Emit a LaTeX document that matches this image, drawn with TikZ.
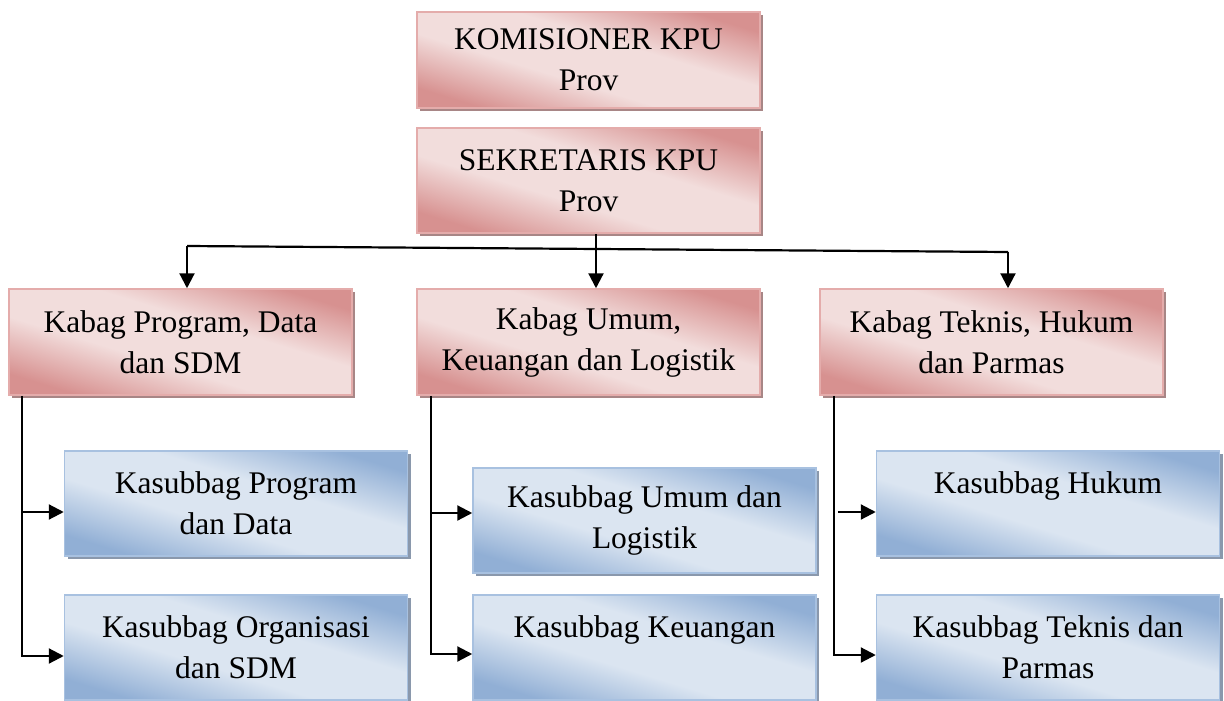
\documentclass[tikz,border=0pt]{standalone}
\usepackage{fontspec}
\setmainfont{Liberation Serif}
\usetikzlibrary{arrows.meta,shadows}

\definecolor{pinkdark}{RGB}{215,145,144}
\definecolor{pinklight}{RGB}{242,221,220}
\definecolor{pinkline}{RGB}{228,172,171}
\definecolor{pinkshade}{RGB}{168,134,134}
\definecolor{bluedark}{RGB}{145,175,213}
\definecolor{bluelight}{RGB}{219,229,241}
\definecolor{blueline}{RGB}{168,193,224}
\definecolor{blueshade}{RGB}{138,152,172}

\pgfdeclareverticalshading{kabagshade}{100bp}{color(0bp)=(pinkdark); color(25bp)=(pinkdark);
  color(42bp)=(pinklight); color(58bp)=(pinklight); color(75bp)=(pinkdark); color(100bp)=(pinkdark)}
\pgfdeclareverticalshading{subshade}{100bp}{color(0bp)=(bluedark); color(25bp)=(bluedark);
  color(42bp)=(bluelight); color(58bp)=(bluelight); color(75bp)=(bluedark); color(100bp)=(bluedark)}

\tikzset{
  unitbox/.style={rectangle, minimum width=343pt, minimum height=105pt,
    inner sep=0pt, align=center, line width=1.5pt,
    font=\fontsize{31.5}{41}\selectfont},
  kabagbox/.style={unitbox, draw=pinkline, shading=kabagshade, shading angle=-17,
    drop shadow={shadow xshift=3pt, shadow yshift=-3pt, fill=pinkshade, opacity=1}},
  subbox/.style={unitbox, draw=blueline, shading=subshade, shading angle=-17,
    drop shadow={shadow xshift=3pt, shadow yshift=-3pt, fill=blueshade, opacity=1}},
  conn/.style={line width=2.2pt},
  arr/.style={conn, -{Triangle[length=15pt,width=15pt]}}
}

\begin{document}
\begin{tikzpicture}[x=1pt, y=-1pt]
  \useasboundingbox (0,0) rectangle (1224,701);

  % pimpinan
  \node[kabagbox, minimum height=96pt] (kom) at (588.5,60) {KOMISIONER KPU\\Prov};
  \node[kabagbox] (sek) at (588.5,180.5) {SEKRETARIS KPU\\Prov};

  % kabag
  \node[kabagbox, minimum height=106pt] (kabprog) at (180.5,342) {Kabag Program, Data\\dan SDM};
  \node[kabagbox, minimum height=106pt] (kabumum) at (588.5,342) {Kabag Umum,\\Keuangan dan Logistik};
  \node[kabagbox, minimum height=106pt] (kabtek) at (991.5,342) {Kabag Teknis, Hukum\\dan Parmas};

  % kasubbag
  \node[subbox] (subprog) at (236,503.5) {Kasubbag Program\\dan Data};
  \node[subbox] (suborg) at (236,647.5) {Kasubbag Organisasi\\dan SDM};
  \node[subbox] (subumum) at (644.5,520.5) {Kasubbag Umum dan\\Logistik};
  \node[subbox] (subkeu) at (644.5,647.5) {Kasubbag Keuangan\\\mbox{}};
  \node[subbox] (subhuk) at (1048,503.5) {Kasubbag Hukum\\\mbox{}};
  \node[subbox] (subtek) at (1048,647.5) {Kasubbag Teknis dan\\Parmas};

  % garis ke kabag
  \coordinate (busl) at (187,246);
  \coordinate (busr) at (1008,252);
  \draw[conn] (busl) -- (busr);
  \draw[arr] (busl) -- (busl |- kabprog.north);
  \draw[arr] ([xshift=7.5pt]sek.south) -- ([xshift=7.5pt]kabumum.north);
  \draw[arr] (busr) -- (busr |- kabtek.north);

  % garis ke kasubbag
  \coordinate (progtop) at ([xshift=14pt]kabprog.south west);
  \coordinate (aprog) at ([yshift=-8.5pt]subprog.west);
  \coordinate (aorg) at ([yshift=-8.5pt]suborg.west);
  \draw[arr] (progtop) |- (aorg);
  \draw[arr] (progtop |- aprog) -- (aprog);

  \coordinate (umumtop) at ([xshift=15pt]kabumum.south west);
  \coordinate (aumum) at ([yshift=7.5pt]subumum.west);
  \coordinate (akeu) at ([yshift=-6.5pt]subkeu.west);
  \draw[arr] (umumtop) |- (akeu);
  \draw[arr] (umumtop |- aumum) -- (aumum);

  \coordinate (tektop) at ([xshift=15pt]kabtek.south west);
  \coordinate (ahuk) at ([yshift=-8.5pt]subhuk.west);
  \coordinate (atek) at ([yshift=-7.5pt]subtek.west);
  \coordinate (hukstart) at ([xshift=-38pt]ahuk);
  \draw[arr] (tektop) |- (atek);
  \draw[arr] (hukstart) -- (ahuk);
\end{tikzpicture}
\end{document}
